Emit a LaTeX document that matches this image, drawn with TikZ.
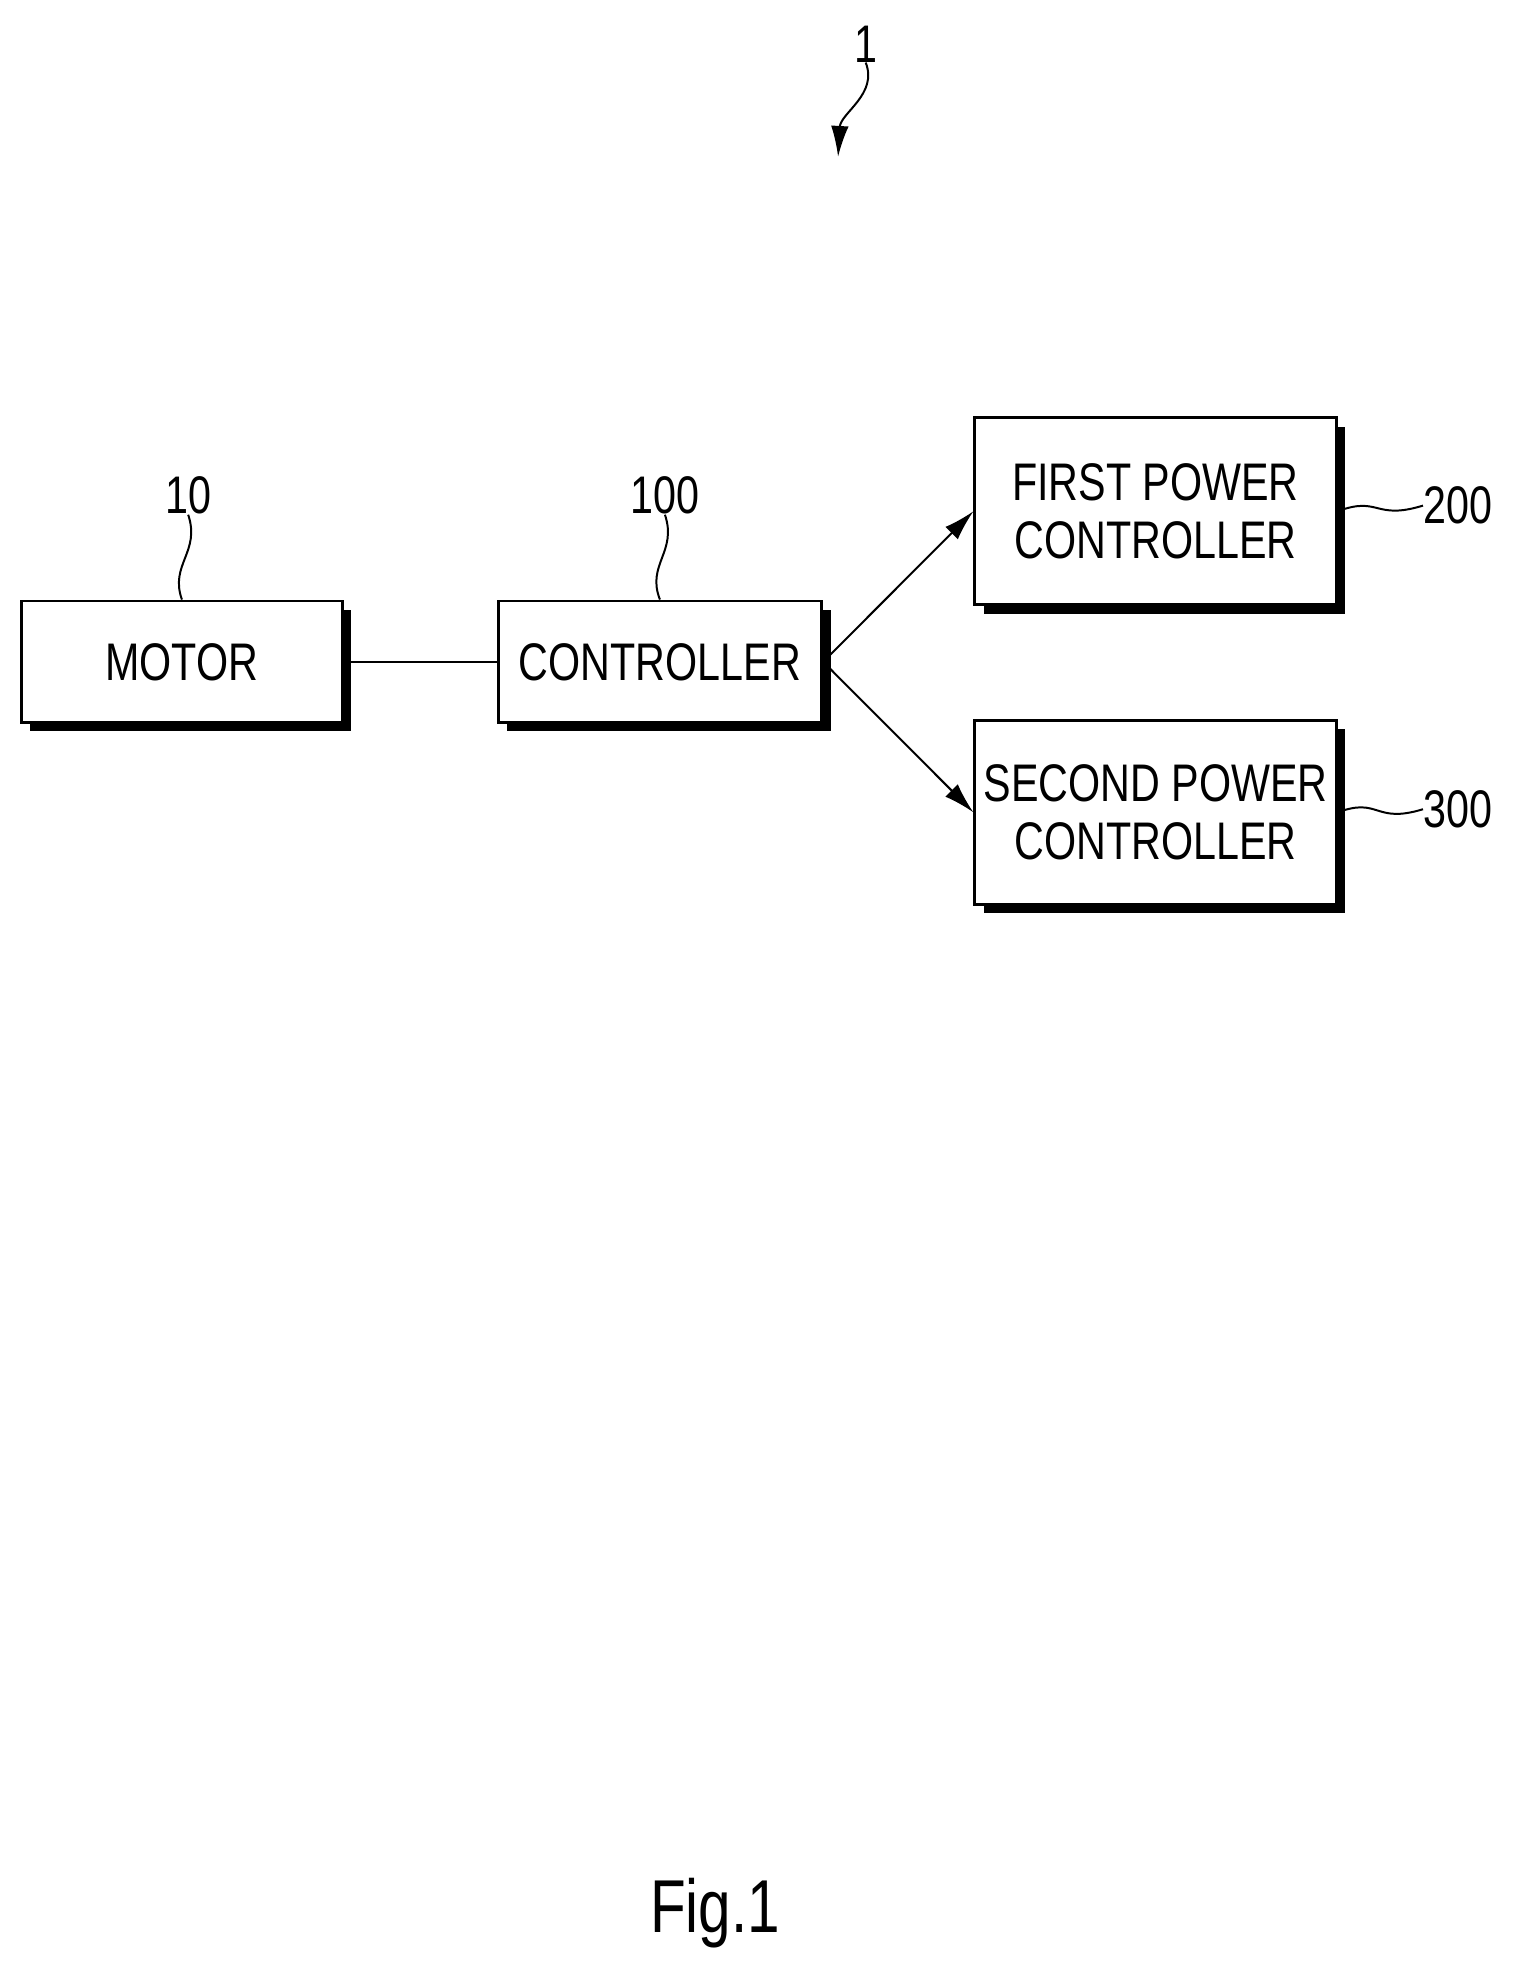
\documentclass[tikz,border=0pt]{standalone}
\usepackage{fontspec}
\setmainfont{Liberation Sans}[FakeStretch=0.78]
\usetikzlibrary{shadows,arrows.meta}
\begin{document}
\begin{tikzpicture}[x=0.02cm,y=-0.02cm,
  blk/.style={draw,fill=white,line width=1.3pt,inner sep=0pt,align=center,font=\fontsize{24}{30}\selectfont,
    drop shadow={shadow xshift=4pt,shadow yshift=-4pt,fill=black,opacity=1}},
  lbl/.style={font=\fontsize{24}{28}\selectfont,inner sep=0pt},
  wire/.style={line width=0.9pt},
  arr/.style={wire,-{Latex[length=14pt,width=8pt]}}]
\useasboundingbox (0,0) rectangle (1213,1575);
\node[blk,minimum width=256\pgflinewidth*0+5.12cm,minimum height=1.94cm] (m) at (145,527.5) {MOTOR};
\node[blk,minimum width=5.16cm,minimum height=1.94cm] (c) at (526,527.5) {CONTROLLER};
\node[blk,minimum width=5.76cm,minimum height=2.98cm] (f) at (921,407.5) {FIRST POWER\\[-4pt]CONTROLLER};
\node[blk,minimum width=5.76cm,minimum height=2.94cm] (s) at (921,647.5) {SECOND POWER\\[-4pt]CONTROLLER};
\draw[wire] (m.east) -- (c.west);
\draw[arr] (c.east) -- (f.west);
\draw[arr] (c.east) -- (s.west);
\node[lbl] (l10) at (150,395) {10};
\node[lbl] (l100) at (530,395) {100};
\node[lbl] (l200) at (1162,403) {200};
\node[lbl] (l300) at (1162,645) {300};
\node[lbl] (l1) at (690,35) {1};
\node[font=\fontsize{34}{40}\selectfont,inner sep=0pt] (fig) at (570,1525) {Fig.1};
\draw[wire] (l10.south) .. controls (160,440) and (135,450) .. (m.north);
\draw[wire] (l100.south) .. controls (540,440) and (515,450) .. (c.north);
\draw[wire] (f.east) .. controls (1100,395) and (1095,415) .. (l200.west);
\draw[wire] (s.east) .. controls (1100,635) and (1095,657) .. (l300.west);
\coordinate (t1) at (668,125);
\draw[arr] (l1.south) .. controls (700,75) and (670,90) .. (t1);
\end{tikzpicture}
\end{document}
